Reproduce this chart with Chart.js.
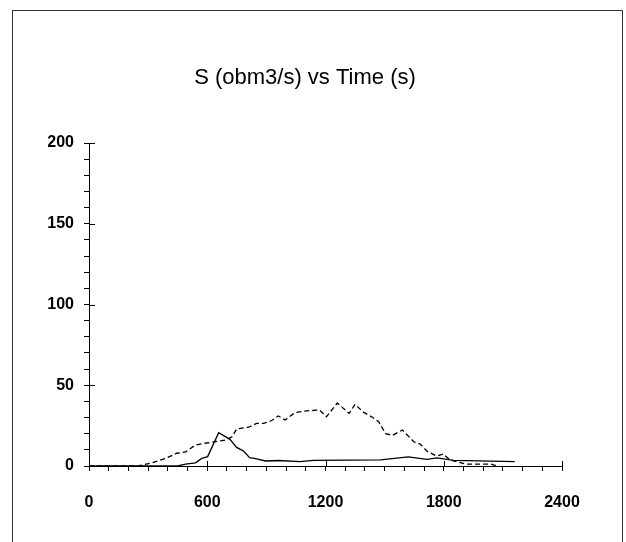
<!DOCTYPE html>
<html lang="en">
<head>
  <meta charset="UTF-8">
  <title>S vs Time</title>
  <style>
    body { margin: 0; background: #fff; }
    #frame {
      position: absolute; left: 12px; top: 10px;
      width: 609px; height: 560px;
      border: 1px solid #333;
    }
    #wrap { position: absolute; left: 0; top: 0; width: 626px; height: 542px; }
  </style>
  <script src="https://cdn.jsdelivr.net/npm/chart.js@4.4.0/dist/chart.umd.min.js"></script>
</head>
<body>
  <div id="frame"></div>
  <div id="wrap"><canvas id="myChart" width="626" height="542"></canvas></div>

<script>
// dashed series
var timeA = [0, 250, 320, 390, 445, 490, 540, 605, 690, 725, 750, 810, 850, 885, 925, 960, 995, 1045, 1090, 1170, 1205, 1260, 1320, 1350, 1390, 1440, 1470, 1505, 1540, 1590, 1648, 1680, 1718, 1764, 1798, 1832, 1910, 2040, 2070];
var valA  = [0, 0, 2, 4.8, 7.9, 8.7, 13, 14.4, 16, 18, 23, 24, 26.4, 26.4, 28, 31, 28.5, 33, 34, 34.7, 30.5, 39, 32.6, 38.2, 33.5, 30, 27.4, 20, 19, 22.3, 15, 13.6, 8.9, 6.2, 7.4, 3.7, 1.2, 1.2, 0];

// solid series
var timeB = [0, 450, 490, 540, 572, 602, 658, 715, 749, 783, 815, 845, 895, 960, 1070, 1140, 1300, 1480, 1620, 1715, 1765, 1850, 2160];
var valB  = [0, 0, 1.2, 2, 4.7, 5.8, 20.6, 16.5, 11.5, 9.4, 5.2, 4.5, 3.1, 3.4, 2.7, 3.5, 3.6, 3.8, 5.6, 4.1, 5, 3.5, 2.7];

var xMajor = [0, 600, 1200, 1800, 2400];
var yMajor = [0, 50, 100, 150, 200];

function pts(t, v) {
  var out = [];
  for (var i = 0; i < t.length; i++) out.push({x: t[i], y: v[i]});
  return out;
}

// major ticks also poke into the plot area
var innerTicks = {
  id: 'innerTicks',
  afterDraw: function(chart) {
    var c = chart.ctx, xs = chart.scales.x, ys = chart.scales.y;
    var a = chart.chartArea;
    c.save();
    c.strokeStyle = '#000';
    c.lineWidth = 1;
    c.beginPath();
    yMajor.forEach(function(v) {
      var py = Math.round(ys.getPixelForValue(v)) + 0.5;
      c.moveTo(a.left, py); c.lineTo(a.left + 6, py);
    });
    xMajor.forEach(function(v) {
      var px = Math.round(xs.getPixelForValue(v)) + 0.5;
      c.moveTo(px, a.bottom); c.lineTo(px, a.bottom - 5);
    });
    c.stroke();
    c.restore();
  }
};

var tickFont = { family: 'Liberation Sans, Arial, sans-serif', size: 16, weight: 'bold' };

var ctx = document.getElementById('myChart').getContext('2d');
var chart = new Chart(ctx, {
  type: 'line',
  data: {
    datasets: [{
      label: 'dashed',
      data: pts(timeA, valA),
      borderColor: '#000',
      borderWidth: 1.3,
      borderDash: [5, 3],
      pointRadius: 0,
      tension: 0
    }, {
      label: 'solid',
      data: pts(timeB, valB),
      borderColor: '#000',
      borderWidth: 1.3,
      pointRadius: 0,
      tension: 0
    }]
  },
  options: {
    responsive: false,
    animation: false,
    layout: { padding: { left: 48, right: 64, top: 0, bottom: 0 } },
    plugins: {
      legend: { display: false },
      tooltip: { enabled: false },
      title: {
        display: true,
        text: 'S (obm3/s) vs Time (s)',
        color: '#000',
        font: { family: 'Liberation Sans, Arial, sans-serif', size: 22, weight: 'normal', lineHeight: 1.2 },
        padding: { top: 65, bottom: 51.6 }
      }
    },
    scales: {
      x: {
        type: 'linear',
        min: 0, max: 2400,
        afterFit: function(s) { s.height = 76; },
        border: { display: true, color: '#000', width: 1 },
        grid: { drawOnChartArea: false, drawTicks: true, tickLength: 5, color: '#000' },
        ticks: {
          stepSize: 100, autoSkip: false, maxRotation: 0, padding: 22,
          color: '#000', font: tickFont,
          callback: function(v) { return v % 600 === 0 ? String(v) : ''; }
        }
      },
      y: {
        min: 0, max: 200,
        afterFit: function(s) { s.width = 41; },
        border: { display: true, color: '#000', width: 1 },
        grid: { drawOnChartArea: false, drawTicks: true, tickLength: 5, color: '#000' },
        ticks: {
          stepSize: 10, autoSkip: false, padding: 10,
          color: '#000', font: tickFont,
          callback: function(v) { return v % 50 === 0 ? String(v) : ''; }
        }
      }
    }
  },
  plugins: [innerTicks]
});
</script>
</body>
</html>
